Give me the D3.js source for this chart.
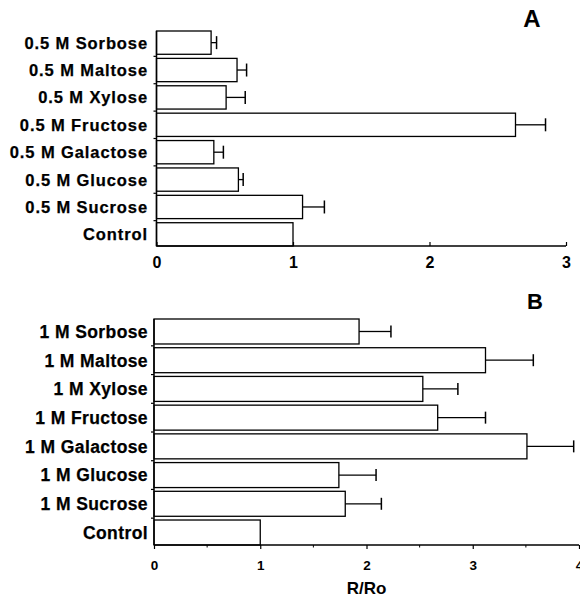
<!DOCTYPE html>
<html>
<head>
<meta charset="utf-8">
<script src="https://cdn.jsdelivr.net/npm/d3@7"></script>
<style>
  html, body { margin: 0; padding: 0; background: #fff; }
  svg { display: block; }
  text { font-family: "Liberation Sans", Arial, Helvetica, sans-serif; font-weight: bold; fill: #000; }
  text.cat { stroke: #000; stroke-width: 0.25px; }
</style>
</head>
<body>
<svg id="chart" width="580" height="599"></svg>
<script>
// Panel A: 0.5 M sugars
const catsA = ["0.5 M Sorbose", "0.5 M Maltose", "0.5 M Xylose", "0.5 M Fructose",
               "0.5 M Galactose", "0.5 M Glucose", "0.5 M Sucrose", "Control"];
const valsA = [0.40, 0.59, 0.51, 2.63, 0.42, 0.60, 1.07, 1.00];
const errsA = [0.04, 0.07, 0.14, 0.22, 0.07, 0.035, 0.16, 0];
const ticksA = [0, 1, 2, 3];

// Panel B: 1 M sugars
const catsB = ["1 M Sorbose", "1 M Maltose", "1 M Xylose", "1 M Fructose",
               "1 M Galactose", "1 M Glucose", "1 M Sucrose", "Control"];
const valsB = [1.93, 3.12, 2.53, 2.67, 3.51, 1.74, 1.80, 1.00];
const errsB = [0.30, 0.45, 0.33, 0.45, 0.44, 0.35, 0.34, 0];
const ticksB = [0, 1, 2, 3, 4];

const axisTitle = "R/Ro";

const svg = d3.select("#chart");

function panel(cfg) {
  const x = d3.scaleLinear().domain(cfg.domain).range(cfg.xRange);
  const y = d3.scaleBand().domain(cfg.cats).range(cfg.yRange)
    .paddingInner(cfg.pad).paddingOuter(0);
  const g = svg.append("g");
  const y0 = cfg.yRange[1];

  // bars
  g.selectAll("rect.bar").data(cfg.cats).join("rect")
    .attr("class", "bar")
    .attr("x", x(0))
    .attr("y", d => y(d))
    .attr("width", (d, i) => x(cfg.vals[i]) - x(0))
    .attr("height", y.bandwidth())
    .attr("fill", "#fff")
    .attr("stroke", "#000")
    .attr("stroke-width", 1.3);

  // error bars
  const eb = g.selectAll("g.err").data(cfg.cats.filter((d, i) => cfg.errs[i] > 0)).join("g")
    .attr("class", "err");
  eb.append("line")
    .attr("x1", d => x(cfg.vals[cfg.cats.indexOf(d)]))
    .attr("x2", d => { const i = cfg.cats.indexOf(d); return x(cfg.vals[i] + cfg.errs[i]); })
    .attr("y1", d => y(d) + y.bandwidth() / 2)
    .attr("y2", d => y(d) + y.bandwidth() / 2)
    .attr("stroke", "#000").attr("stroke-width", 1.3);
  eb.append("line")
    .attr("x1", d => { const i = cfg.cats.indexOf(d); return x(cfg.vals[i] + cfg.errs[i]); })
    .attr("x2", d => { const i = cfg.cats.indexOf(d); return x(cfg.vals[i] + cfg.errs[i]); })
    .attr("y1", d => y(d) + y.bandwidth() / 2 - cfg.cap / 2)
    .attr("y2", d => y(d) + y.bandwidth() / 2 + cfg.cap / 2)
    .attr("stroke", "#000").attr("stroke-width", 1.5);

  // y axis line and category ticks between bands
  g.append("line")
    .attr("x1", x(0)).attr("x2", x(0))
    .attr("y1", cfg.yRange[0]).attr("y2", y0)
    .attr("stroke", "#000").attr("stroke-width", 1.5);
  const bounds = cfg.cats.slice(1).map(d => y(d) - y.step() * y.paddingInner() / 2);
  g.selectAll("line.ytick").data(bounds).join("line")
    .attr("class", "ytick")
    .attr("x1", x(0) - 3).attr("x2", x(0))
    .attr("y1", d => d).attr("y2", d => d)
    .attr("stroke", "#000").attr("stroke-width", 1.2);

  // category labels
  g.selectAll("text.cat").data(cfg.cats).join("text")
    .attr("class", "cat")
    .attr("x", cfg.labelX)
    .attr("y", d => y(d) + y.bandwidth() / 2)
    .attr("dy", "0.36em")
    .attr("text-anchor", "end")
    .style("font-size", cfg.labelSize + "px")
    .style("letter-spacing", cfg.labelSpacing + "px")
    .text(d => d);

  // x axis
  const axis = d3.axisBottom(x).tickValues(cfg.ticks).tickFormat(d3.format("d"))
    .tickSize(cfg.tickDir * 4).tickPadding(0);
  const ax = g.append("g").attr("transform", `translate(0,${y0})`).call(axis);
  ax.select(".domain").attr("stroke", "#000").attr("stroke-width", 1.5)
    .attr("d", `M${x(cfg.domain[0])},0H${x(cfg.domain[1])}`);
  ax.selectAll(".tick line").attr("stroke", "#000").attr("stroke-width", 1.2);
  ax.selectAll(".tick text")
    .attr("y", cfg.tickLabelY)
    .attr("dy", 0)
    .style("font-size", cfg.tickSize + "px")
    .style("font-weight", cfg.tickWeight)
    .style("font-family", "'Liberation Sans', Arial, sans-serif")
    .attr("fill", "#000");
  if (cfg.minor) {
    g.selectAll("line.minor").data(cfg.minor).join("line")
      .attr("class", "minor")
      .attr("x1", d => x(d)).attr("x2", d => x(d))
      .attr("y1", y0).attr("y2", y0 + 2.5)
      .attr("stroke", "#000").attr("stroke-width", 1);
  }

  // panel letter
  g.append("text")
    .attr("x", cfg.letterX).attr("y", cfg.letterY)
    .attr("text-anchor", "middle")
    .style("font-size", cfg.letterSize + "px")
    .text(cfg.letter);
  return x;
}

panel({
  cats: catsA, vals: valsA, errs: errsA, ticks: ticksA,
  domain: [0, 3], xRange: [156.5, 566], yRange: [31, 246], pad: 0.15,
  cap: 13, labelX: 148, labelSize: 16.5, labelSpacing: 0.9,
  tickDir: -1, tickLabelY: 22, tickSize: 16, tickWeight: "bold",
  letter: "A", letterX: 532, letterY: 27, letterSize: 24
});

const xB = panel({
  cats: catsB, vals: valsB, errs: errsB, ticks: ticksB,
  domain: [0, 4], xRange: [154, 579], yRange: [319, 545], pad: 0.13,
  cap: 12, labelX: 148, labelSize: 17.5, labelSpacing: 0.4,
  tickDir: 1, tickLabelY: 25, tickSize: 13.5, tickWeight: "bold",
  minor: [0.5, 1.5, 2.5, 3.5],
  letter: "B", letterX: 535, letterY: 309, letterSize: 22
});

svg.append("text")
  .attr("x", xB(2)).attr("y", 594)
  .attr("text-anchor", "middle")
  .style("font-size", "17px")
  .text(axisTitle);
</script>
</body>
</html>
